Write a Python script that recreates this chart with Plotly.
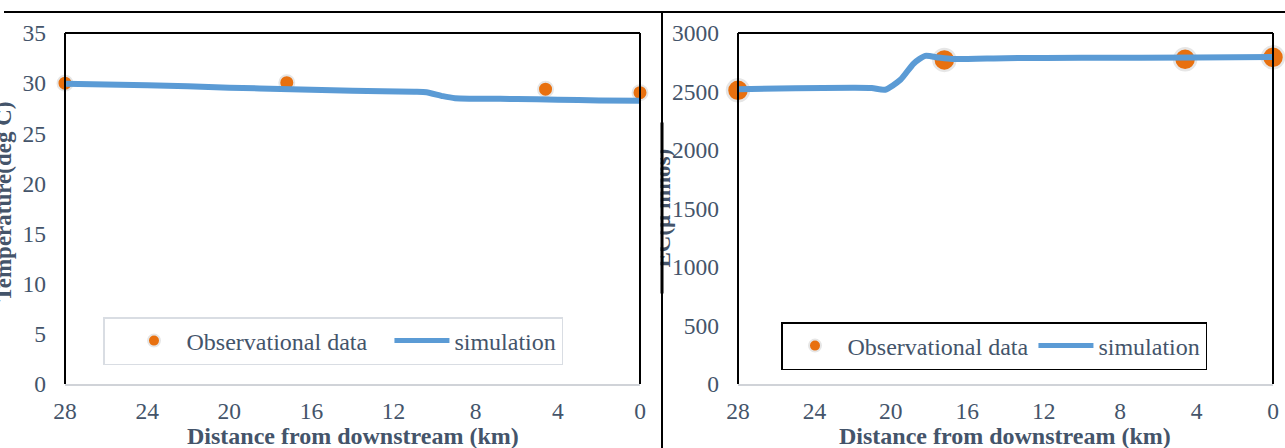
import plotly.graph_objects as go

W, H = 1285, 448

# ---------------- data ----------------
obs_km = [28, 17.2, 4.6, 0]
temp_obs = [30.0, 30.05, 29.4, 29.05]
ec_obs = [2510, 2770, 2775, 2792]

sim_km_t = [28, 24, 20, 17, 14, 11, 10.4, 9.6, 9.0, 6, 4, 2, 0]
temp_sim = [29.95, 29.8, 29.55, 29.4, 29.25, 29.15, 29.1, 28.7, 28.5, 28.42, 28.35, 28.28, 28.25]

sim_km_e = [28, 25, 22, 21, 20.3, 19.5, 18.8, 18.2, 17.5, 16.8, 14, 10, 4, 0]
ec_sim = [2520, 2528, 2532, 2530, 2515, 2600, 2740, 2805, 2790, 2778, 2785, 2788, 2790, 2795]

x_ticks = [28, 24, 20, 16, 12, 8, 4, 0]
xtitle = "Distance from downstream (km)"
ytitle_left = "Temperature(deg C)"
ytitle_right = "EC(µ mhos)"
obs_name = "Observational data"
sim_name = "simulation"

# ---------------- style ----------------
FONT = "Liberation Serif, Times New Roman, serif"
TXT = "#44546a"
ORANGE = "#e8700f"
BLUE = "#5b9bd5"

def px(x):
    return x / W

def py(y):
    return 1 - y / H

fig = go.Figure()

fig.add_trace(go.Scatter(x=obs_km, y=temp_obs, mode="markers", name=obs_name,
                         marker=dict(color=ORANGE, size=15, line=dict(color="#e6e6e6", width=2)),
                         xaxis="x", yaxis="y", legend="legend", cliponaxis=False))
fig.add_trace(go.Scatter(x=sim_km_t, y=temp_sim, mode="lines", name=sim_name,
                         line=dict(color=BLUE, width=6, shape="spline", smoothing=0.6),
                         xaxis="x", yaxis="y", legend="legend", cliponaxis=False))
fig.add_trace(go.Scatter(x=obs_km, y=ec_obs, mode="markers", name=obs_name,
                         marker=dict(color=ORANGE, size=22, line=dict(color="#e6e6e6", width=2.5)),
                         xaxis="x2", yaxis="y2", legend="legend2", cliponaxis=False))
fig.add_trace(go.Scatter(x=sim_km_e, y=ec_sim, mode="lines", name=sim_name,
                         line=dict(color=BLUE, width=6, shape="spline", smoothing=0.6),
                         xaxis="x2", yaxis="y2", legend="legend2", cliponaxis=False))

ydom = [py(384), py(33)]
axis_font = dict(family=FONT, size=23.5, color=TXT)

common_x = dict(range=[28, 0], tickvals=x_ticks, showgrid=False, zeroline=False,
                showline=True, linecolor="#d0d3d8", linewidth=2, ticks="",
                tickfont=axis_font, ticklabelstandoff=5, automargin=False)
common_y = dict(showgrid=False, zeroline=False, showline=False, ticks="",
                tickfont=axis_font, ticklabelstandoff=18, automargin=False)

leg_font = dict(family=FONT, size=24, color=TXT)
fig.update_layout(
    width=W, height=H,
    margin=dict(l=0, r=0, t=0, b=0, autoexpand=False),
    paper_bgcolor="white", plot_bgcolor="white",
    xaxis=dict(domain=[px(65), px(640)], anchor="y", **common_x),
    yaxis=dict(domain=ydom, anchor="x", range=[0, 35], dtick=5, **common_y),
    xaxis2=dict(domain=[px(738), px(1273)], anchor="y2", **common_x),
    yaxis2=dict(domain=ydom, anchor="x2", range=[0, 3000], dtick=500, **common_y),
    legend=dict(x=px(103), y=py(317), xanchor="left", yanchor="top",
                orientation="h", bgcolor="white", bordercolor="#d9dde3", borderwidth=1.5,
                font=leg_font, itemsizing="constant", itemwidth=55, indentation=17,
                tracegroupgap=0),
    legend2=dict(x=px(781), y=py(322), xanchor="left", yanchor="top",
                 orientation="h", bgcolor="white", bordercolor="black", borderwidth=1.5,
                 font=leg_font, itemsizing="constant", itemwidth=55, indentation=0,
                 tracegroupgap=0),
    showlegend=True,
)

shapes = []
for xr, yr in (("x domain", "y domain"), ("x2 domain", "y2 domain")):
    shapes.append(dict(type="line", xref=xr, yref=yr, x0=0, x1=0, y0=0, y1=1,
                       line=dict(color="black", width=2)))
    shapes.append(dict(type="line", xref=xr, yref=yr, x0=0, x1=1, y0=1, y1=1,
                       line=dict(color="black", width=2)))
    shapes.append(dict(type="line", xref=xr, yref=yr, x0=1, x1=1, y0=0, y1=1,
                       line=dict(color="black", width=2)))
shapes.append(dict(type="line", xref="paper", yref="paper", x0=px(4), x1=1, y0=py(12), y1=py(12),
                   line=dict(color="black", width=2)))
shapes.append(dict(type="line", xref="paper", yref="paper", x0=px(662), x1=px(662), y0=py(12), y1=0,
                   line=dict(color="black", width=2)))
fig.update_layout(shapes=shapes)

xt_font = dict(family=FONT, size=24, color=TXT)
yt_font = dict(family=FONT, size=23, color=TXT)
ann = [
    dict(text="<b>%s</b>" % xtitle, xref="paper", yref="paper", x=px(353), y=py(436),
         xanchor="center", yanchor="middle", showarrow=False, font=xt_font),
    dict(text="<b>%s</b>" % xtitle, xref="paper", yref="paper", x=px(1005), y=py(436),
         xanchor="center", yanchor="middle", showarrow=False, font=xt_font),
    dict(text="<b>%s</b>" % ytitle_left, xref="paper", yref="paper", x=px(17), y=py(202),
         xanchor="right", yanchor="middle", textangle=-90, showarrow=False, font=yt_font),
    dict(text="<b>%s</b>" % ytitle_right, xref="paper", yref="paper", x=px(676), y=py(208),
         xanchor="right", yanchor="middle", textangle=-90, showarrow=False, font=yt_font),
    # white cover clipping the right title at the divider
    dict(text=" ", xref="paper", yref="paper", x=px(661), y=py(208), xanchor="right",
         yanchor="middle", showarrow=False, width=17, height=170, bgcolor="white", borderpad=0),
    # divider redrawn above the title
    dict(text=" ", xref="paper", yref="paper", x=px(662.5), y=py(208), xanchor="center",
         yanchor="middle", showarrow=False, width=2, height=170, bgcolor="black", borderpad=0,
         font=dict(size=2)),
]
fig.update_layout(annotations=ann)

fig.write_html("out.html")
